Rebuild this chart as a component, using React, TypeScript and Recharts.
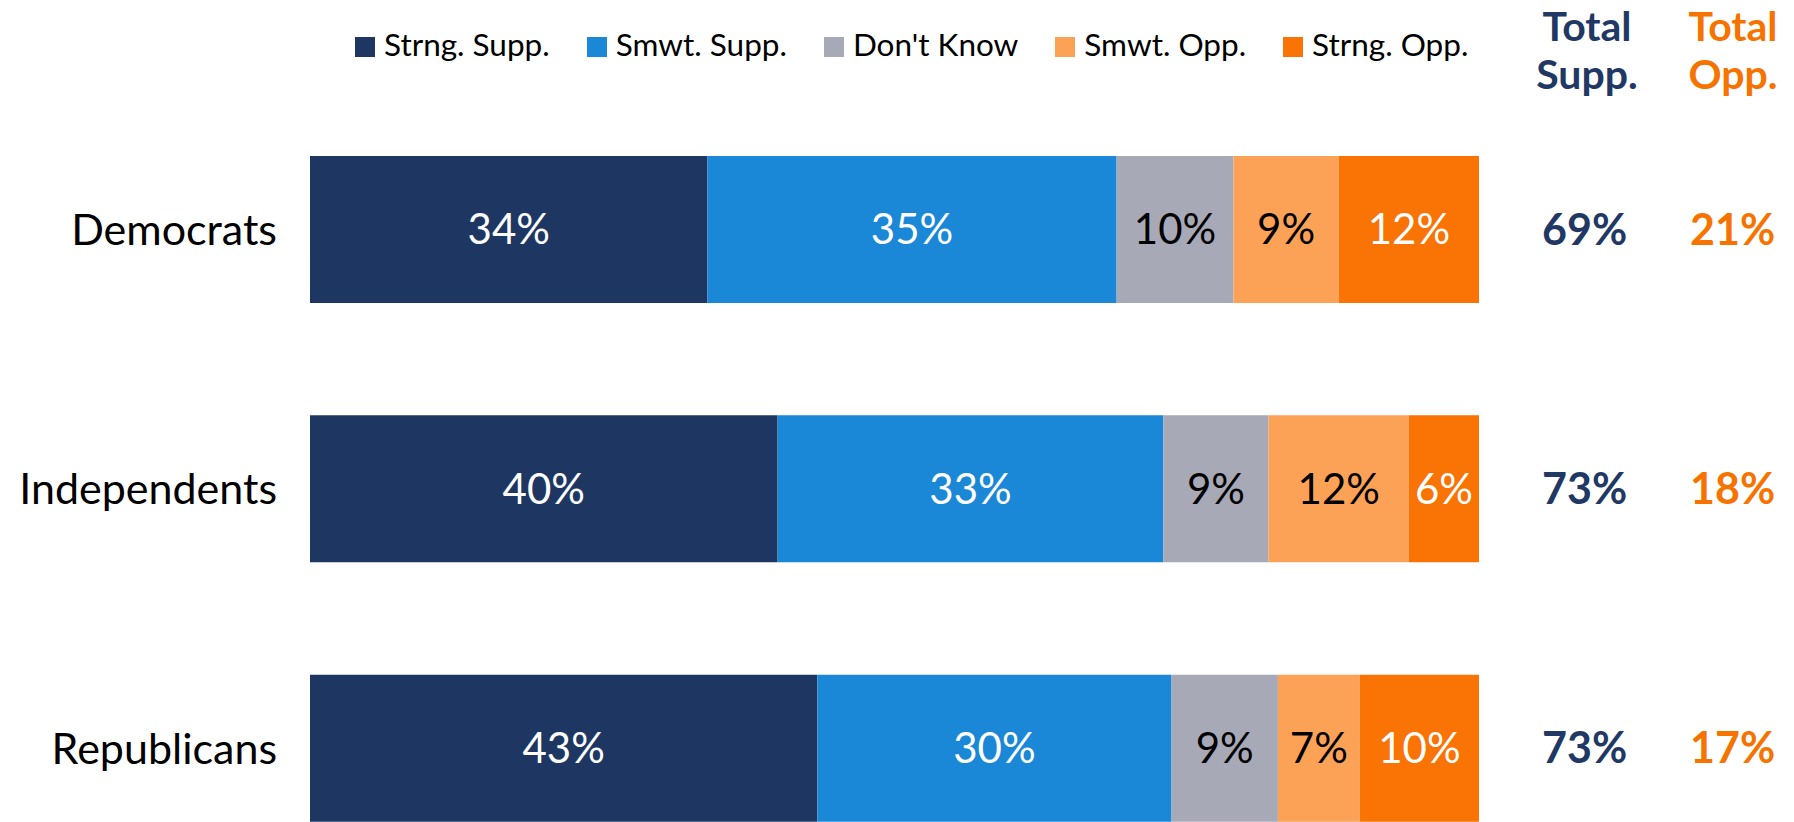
import { BarChart, Bar, XAxis, YAxis, LabelList } from 'recharts';

const categories = ['Democrats', 'Independents', 'Republicans'];
const strongSupport = [34, 40, 43.4];
const somewhatSupport = [35, 33, 30.3];
const dontKnow = [10, 9, 9.1];
const somewhatOppose = [9, 12, 7];
const strongOppose = [12, 6, 10.2];
const totalSupport = [69, 73, 73];
const totalOppose = [21, 18, 17];

const seriesKeys = ['strongSupp', 'smwtSupp', 'dk', 'smwtOpp', 'strongOpp'];
const seriesNames = ['Strng. Supp.', 'Smwt. Supp.', "Don't Know", 'Smwt. Opp.', 'Strng. Opp.'];
const seriesColors = ['#1d3762', '#1a88d7', '#a8a9b7', '#fca257', '#f97305'];
const labelColors = ['#ffffff', '#ffffff', '#000000', '#000000', '#ffffff'];

const NAVY = '#1f3864';
const ORANGE = '#f77300';
const FONT = 'Lato, "Open Sans", sans-serif';

const rows = categories.map((name, i) => ({
  name,
  strongSupp: strongSupport[i],
  smwtSupp: somewhatSupport[i],
  dk: dontKnow[i],
  smwtOpp: somewhatOppose[i],
  strongOpp: strongOppose[i],
  totalSupp: totalSupport[i],
  totalOpp: totalOppose[i],
}));

const pct = (v: unknown) => `${Math.round(Number(v))}%`;

function LegendRow() {
  return (
    <div
      style={{
        position: 'absolute',
        left: 355,
        top: 25,
        display: 'flex',
        alignItems: 'center',
        gap: 37,
        fontFamily: FONT,
        fontSize: 31.5,
        color: '#000',
        whiteSpace: 'nowrap',
      }}
    >
      {seriesNames.map((n, i) => (
        <div key={n} style={{ display: 'flex', alignItems: 'center', gap: 9 }}>
          <span style={{ width: 20, height: 20, background: seriesColors[i], display: 'inline-block', marginTop: 6 }} />
          <span>{n}</span>
        </div>
      ))}
    </div>
  );
}

function Header({ center, color, lines }: { center: number; color: string; lines: string[] }) {
  return (
    <div
      style={{
        position: 'absolute',
        left: center - 80,
        width: 160,
        top: 2,
        textAlign: 'center',
        fontFamily: FONT,
        fontWeight: 700,
        fontSize: 41,
        lineHeight: '48px',
        color,
      }}
    >
      {lines.map((l) => (
        <div key={l}>{l}</div>
      ))}
    </div>
  );
}

export default function App() {
  return (
    <div style={{ position: 'absolute', left: 0, top: 0, width: 1794, height: 822, overflow: 'hidden', background: '#fff' }}>
      <LegendRow />
      <Header center={1587} color={NAVY} lines={['Total', 'Supp.']} />
      <Header center={1733} color={ORANGE} lines={['Total', 'Opp.']} />
      <BarChart
        width={1794}
        height={878}
        data={rows}
        layout="vertical"
        margin={{ top: 100, right: 315, bottom: 0, left: 0 }}
        barSize={147}
      >
        <XAxis type="number" domain={[0, 100]} hide />
        <YAxis
          type="category"
          dataKey="name"
          width={310}
          tickLine={false}
          axisLine={false}
          tickSize={0}
          tickMargin={33}
          tick={{ fill: '#000', fontSize: 43, fontFamily: FONT }}
        />
        {seriesKeys.map((k, i) => (
          <Bar key={k} dataKey={k} stackId="a" fill={seriesColors[i]} isAnimationActive={false}>
            <LabelList
              dataKey={k}
              position="center"
              formatter={pct}
              fill={labelColors[i]}
              style={{ fontSize: 42, fontFamily: FONT }}
            />
            {i === seriesKeys.length - 1 && (
              <LabelList
                dataKey="totalSupp"
                position="right"
                offset={63}
                formatter={pct}
                fill={NAVY}
                style={{ fontSize: 43, fontWeight: 700, fontFamily: FONT }}
              />
            )}
            {i === seriesKeys.length - 1 && (
              <LabelList
                dataKey="totalOpp"
                position="right"
                offset={211}
                formatter={pct}
                fill={ORANGE}
                style={{ fontSize: 43, fontWeight: 700, fontFamily: FONT }}
              />
            )}
          </Bar>
        ))}
      </BarChart>
    </div>
  );
}
